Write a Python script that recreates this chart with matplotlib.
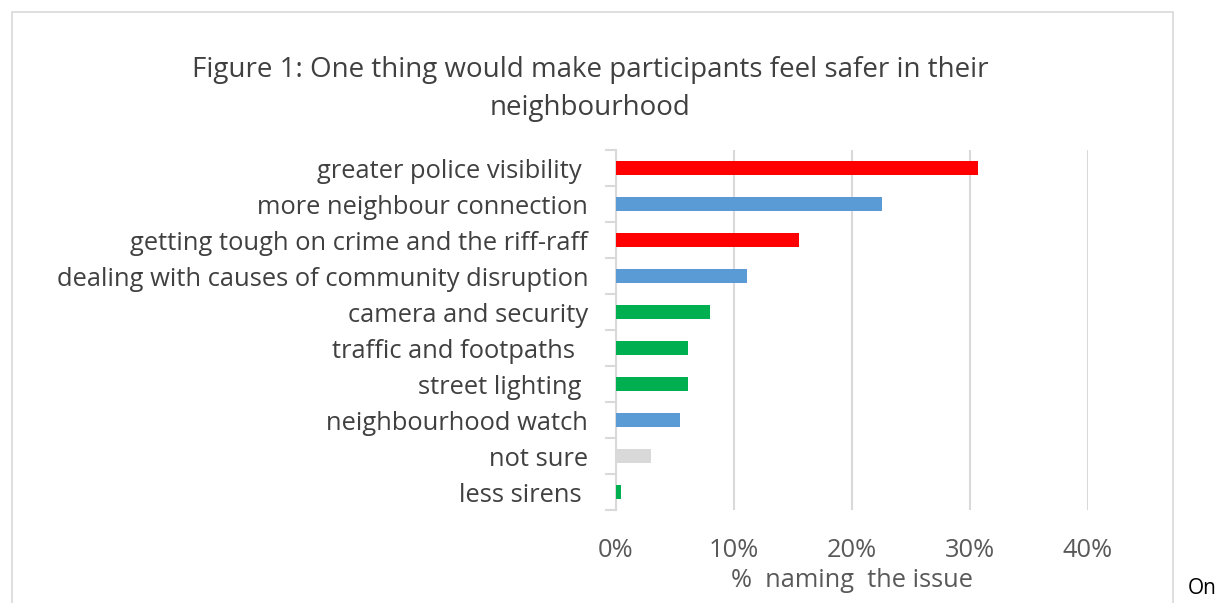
import matplotlib.pyplot as plt
from matplotlib.patches import Rectangle

# data
labels = ["greater police visibility ", "more neighbour connection",
          "getting tough on crime and the riff-raff",
          "dealing with causes of community disruption",
          "camera and security", "traffic and footpaths  ", "street lighting ",
          "neighbourhood watch", "not sure", "less sirens "]
pct = [30.7, 22.5, 15.5, 11.1, 8.0, 6.1, 6.1, 5.4, 3.0, 0.4]
colours = ["#FF0000", "#5B9BD5", "#FF0000", "#5B9BD5", "#00B050",
           "#00B050", "#00B050", "#5B9BD5", "#D9D9D9", "#00B050"]
xticks = [0, 10, 20, 30, 40]

plt.rcParams['font.family'] = ['Open Sans', 'DejaVu Sans']

fig = plt.figure(figsize=(12.15, 6.03), dpi=100)
ax = fig.add_axes([616/1215, 1-510/603, 472/1215, 360/603])

ypos = list(range(len(labels)))
ax.barh(ypos, pct, height=0.4, color=colours, zorder=3)
ax.set_ylim(len(labels)-0.5, -0.5)
ax.set_xlim(0, 40)
ax.set_xticks(xticks)
ax.set_xticklabels([f"{t}%" for t in xticks])
ax.set_yticks([y-0.5 for y in ypos] + [len(labels)-0.5], minor=True)
ax.set_yticks(ypos)
ax.set_yticklabels(labels, va='center_baseline')

ax.grid(axis='x', color='#D9D9D9', linewidth=1.5, zorder=0)
for s in ['top', 'right', 'bottom']:
    ax.spines[s].set_visible(False)
ax.spines['left'].set_color('#D9D9D9')
ax.spines['left'].set_linewidth(1.5)
ax.tick_params(axis='y', which='major', length=0, pad=20, labelsize=18.4, labelcolor='#404040')
ax.tick_params(axis='y', which='minor', length=8, width=1.5, color='#D9D9D9')
ax.tick_params(axis='x', length=0, pad=20, labelsize=18.4, labelcolor='#595959')
ax.set_xlabel("%  naming  the issue", fontsize=18.3, color='#595959', labelpad=4)

fig.text(590/1215, 1-70/603, "Figure 1: One thing would make participants feel safer in their",
         ha='center', va='center', fontsize=20, color='#404040')
fig.text(590/1215, 1-108/603, "neighbourhood", ha='center', va='center',
         fontsize=20, color='#404040')

fig.patches.append(Rectangle((12/1215, -0.01), (1173-12)/1215, 1-12/603+0.01,
                             transform=fig.transFigure, fill=False,
                             edgecolor='#D9D9D9', linewidth=1.2))
fig.text(1188/1215, 1-588/603, "On", ha='left', va='center', fontsize=15, color='black')

fig.savefig("out.png", dpi=100)
